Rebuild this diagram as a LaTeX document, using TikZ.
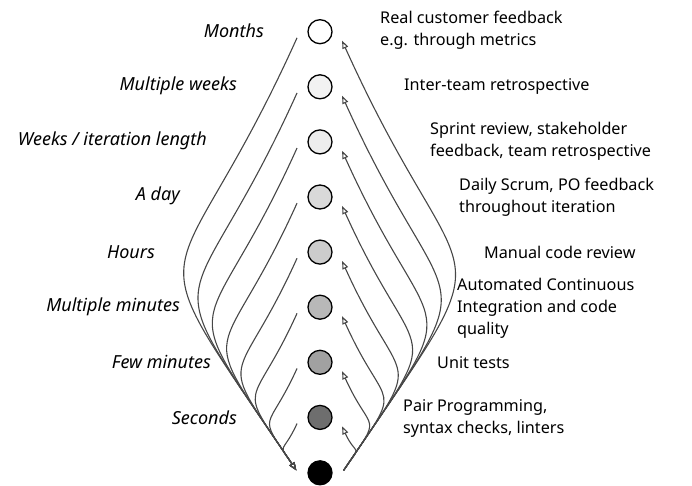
\documentclass[tikz,border=0pt]{standalone}
\usepackage{fontspec}
\setmainfont{Noto Sans}
\usetikzlibrary{arrows.meta}
\begin{document}
\begin{tikzpicture}[x=1pt,y=-1pt,
  lvl/.style={circle, draw=black, line width=1.3pt, minimum size=24pt, inner sep=0pt, outer sep=11.8pt},
  loopline/.style={draw=black!72, line width=1.1pt},
  fwd/.style={loopline, -{Triangle[open, length=8pt, width=6pt]}},
  back/.style={loopline, -{Triangle[open, length=8pt, width=6pt]}},
  rlbl/.style={font=\fontsize{16.2}{22}\selectfont, inner sep=0pt, align=left, anchor=west},
  llbl/.style={font=\fontsize{18}{22}\selectfont\itshape, inner sep=0pt, anchor=east},
]
\useasboundingbox (0,0) rectangle (692,485);

% feedback levels, from slowest (top) to the source (bottom)
\node[lvl, fill=white]      (c0) at (320,31.7)  {};
\node[lvl, fill=black!5]    (c1) at (320,86.8)  {};
\node[lvl, fill=black!7]    (c2) at (320,141.9) {};
\node[lvl, fill=black!15]   (c3) at (320,197.0) {};
\node[lvl, fill=black!20]   (c4) at (320,252.1) {};
\node[lvl, fill=black!28]   (c5) at (320,307.2) {};
\node[lvl, fill=black!37]   (c6) at (320,362.3) {};
\node[lvl, fill=black!57]   (c7) at (320,417.4) {};
\node[lvl, fill=black]      (c8) at (320,472.8) {};

% feedback loops: down on the left, back up on the right
\foreach \i/\ax/\ay/\bx/\by in {
  0/-125.8/279.2/-171.8/-254.6,
  1/-109.8/243.6/-149.9/-222.2,
  2/-93.7/207.9/-128/-189.7,
  3/-77.7/172.4/-106.1/-157.2,
  4/-61.6/136.8/-84.2/-124.7,
  5/-45.6/101.2/-62.3/-92.3,
  6/-29.6/65.6/-40.4/-59.8,
  7/-14.5/31.9/-19.4/-28.3}{
  \draw[fwd] (c\i.195) .. controls +(\ax,\ay) and +(\bx,\by) .. (c8.174);
  \draw[back] (c8.6) .. controls +(-\bx,\by) and +(-\ax,\ay) .. (c\i.338);
}

% time scales
\node[llbl] (t0) at (264,31)  {Months};
\node[llbl] (t1) at (237,86)  {Multiple weeks};
\node[llbl] (t2) at (207,141) {Weeks / iteration length};
\node[llbl] (t3) at (180,196) {A day};
\node[llbl] (t4) at (155,252) {Hours};
\node[llbl] (t5) at (180,307) {Multiple minutes};
\node[llbl] (t6) at (211,362) {Few minutes};
\node[llbl] (t7) at (237,418) {Seconds};

% feedback practices
\node[rlbl] (p0) at (380,30)  {Real customer feedback\\e.g. through metrics};
\node[rlbl] (p1) at (404,86)  {Inter-team retrospective};
\node[rlbl] (p2) at (430,141.5) {Sprint review, stakeholder\\feedback, team retrospective};
\node[rlbl] (p3) at (459,197) {Daily Scrum, PO feedback\\throughout iteration};
\node[rlbl] (p4) at (484,252) {Manual code review};
\node[rlbl] (p5) at (457,308) {Automated Continuous\\Integration and code\\quality};
\node[rlbl] (p6) at (437,363) {Unit tests};
\node[rlbl] (p7) at (403,418) {Pair Programming,\\syntax checks, linters};
\end{tikzpicture}
\end{document}
